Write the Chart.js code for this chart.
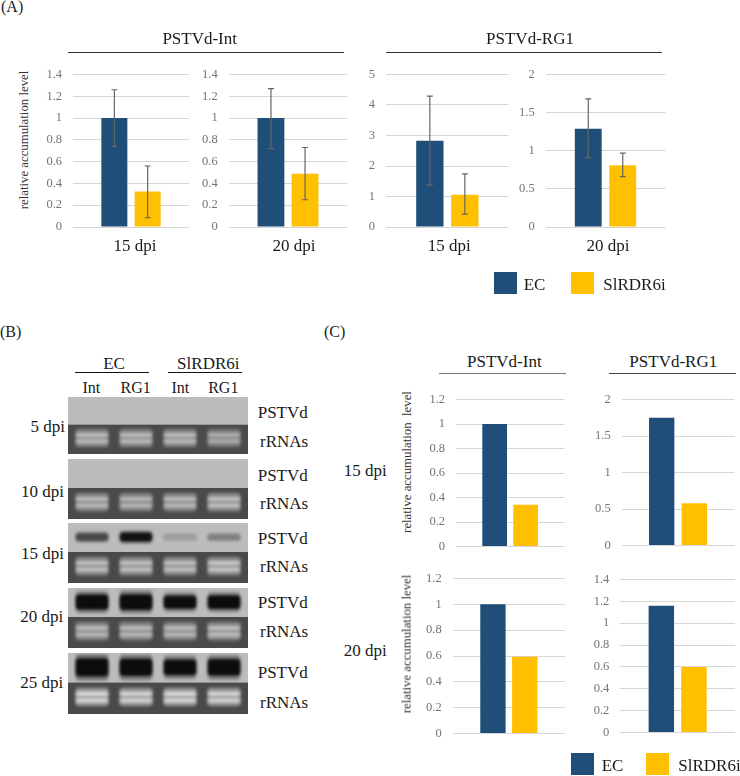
<!DOCTYPE html>
<html>
<head>
<meta charset="utf-8">
<title>PSTVd accumulation</title>
<script src="https://cdn.jsdelivr.net/npm/chart.js@4"></script>
<style>
  html, body { margin: 0; background: #fff; }
  body { position: relative; width: 740px; height: 776px; overflow: hidden; font-family: "Liberation Serif", serif; color: #1a1a1a; }
  canvas { position: absolute; }
  .t { position: absolute; line-height: 1; white-space: pre; }
  .r { position: absolute; }
  .k { position: absolute; }
</style>
</head>
<body>
<script>
const seriesNames = ["EC", "SlRDR6i"];
const BLUE = "#1f4e79";
const YELLOW = "#ffc000";

// panel A, order: Int 15, Int 20, RG1 15, RG1 20
const aEc = [1, 1, 2.83, 1.29];
const aSi = [0.325, 0.49, 1.06, 0.81];
const aEcLow = [0.74, 0.72, 1.37, 0.91];
const aEcHigh = [1.26, 1.27, 4.29, 1.68];
const aSiLow = [0.085, 0.25, 0.42, 0.66];
const aSiHigh = [0.56, 0.73, 1.74, 0.97];
const aDays = ["15 dpi", "20 dpi", "15 dpi", "20 dpi"];
const aMax = [1.4, 1.4, 5, 2];
const aStep = [0.2, 0.2, 1, 0.5];

// panel C, order: Int 15, RG1 15, Int 20, RG1 20
const cEc = [1, 1.75, 1, 1.16];
const cSi = [0.34, 0.58, 0.595, 0.6];
const cMax = [1.2, 2, 1.2, 1.4];
const cStep = [0.2, 0.5, 0.2, 0.2];

// panel B, band signal per lane
const laneLabels = ["EC Int", "EC RG1", "SlRDR6i Int", "SlRDR6i RG1"];
const pstvd5 = [0, 0, 0, 0];
const pstvd10 = [0, 0, 0, 0];
const pstvd15 = [0.3, 0.42, 0.1, 0.17];
const pstvd20 = [0.8, 0.85, 0.68, 0.7];
const pstvd25 = [1, 0.95, 0.85, 0.9];
const rrna5 = [0.62, 0.62, 0.62, 0.52];
const rrna10 = [0.62, 0.6, 0.62, 0.68];
const rrna15 = [0.68, 0.68, 0.68, 0.72];
const rrna20 = [0.62, 0.62, 0.62, 0.66];
const rrna25 = [0.85, 0.82, 0.85, 0.82];

// page layout, plot rectangles in px
const aBoxes = [
  { l: 73, r: 189, t: 74.7, b: 227.3, bar: 26, pitch: 33.3, off: 4 },
  { l: 228.7, r: 348, t: 74.7, b: 227.3, bar: 27, pitch: 34.3, off: 6 },
  { l: 386, r: 508.7, t: 74.5, b: 227.3, bar: 27.3, pitch: 35, off: 2 },
  { l: 545.7, r: 666, t: 74.5, b: 227.3, bar: 27, pitch: 34.7, off: 2.5 },
];
const cBoxes = [
  { l: 456, r: 564.3, t: 399.7, b: 547, bar: 24.7, pitch: 31 },
  { l: 621.7, r: 735, t: 399, b: 545.3, bar: 25.5, pitch: 32.8 },
  { l: 452.7, r: 565.7, t: 578.3, b: 733.7, bar: 25.5, pitch: 32 },
  { l: 620.3, r: 735.3, t: 579.7, b: 732.3, bar: 25.5, pitch: 32.7 },
];
const gelBoxes = [
  { t: 397, b: 454 },
  { t: 459, b: 519 },
  { t: 523, b: 583 },
  { t: 588, b: 648 },
  { t: 653, b: 714 },
];

function text(str, x, y, size, opts) {
  opts = opts || {};
  const d = document.createElement("div");
  d.className = "t";
  d.textContent = str;
  d.style.fontSize = size + "px";
  d.style.left = x + "px";
  d.style.top = y + "px";
  const shift = opts.align === "center" ? "-50%" : opts.align === "right" ? "-100%" : "0";
  d.style.transform = "translate(" + shift + ",-50%)" + (opts.rotate ? " rotate(-90deg)" : "");
  if (opts.color) d.style.color = opts.color;
  document.body.appendChild(d);
}

function rule(x1, x2, y, color, h) {
  const d = document.createElement("div");
  d.className = "r";
  d.style.cssText = "left:" + x1 + "px;width:" + (x2 - x1) + "px;top:" + y + "px;height:" + (h || 1) + "px;background:" + color;
  document.body.appendChild(d);
}

function swatch(x, y, color) {
  const d = document.createElement("div");
  d.className = "k";
  d.style.cssText = "left:" + x + "px;top:" + y + "px;width:23px;height:22px;background:" + color;
  document.body.appendChild(d);
}

const errorBars = {
  id: "errorBars",
  afterDatasetsDraw(chart) {
    const ctx = chart.ctx;
    const y = chart.scales.y;
    chart.data.datasets.forEach((ds, i) => {
      if (ds.errLow == null) return;
      const x = chart.getDatasetMeta(i).data[0].x;
      const y1 = y.getPixelForValue(ds.errLow);
      const y2 = y.getPixelForValue(ds.errHigh);
      ctx.save();
      ctx.strokeStyle = "#666";
      ctx.lineWidth = 1.2;
      ctx.beginPath();
      ctx.moveTo(x, y1);
      ctx.lineTo(x, y2);
      ctx.moveTo(x - 3, y1);
      ctx.lineTo(x + 3, y1);
      ctx.moveTo(x - 3, y2);
      ctx.lineTo(x + 3, y2);
      ctx.stroke();
      ctx.restore();
    });
  },
};

function makeCanvas(left, top, w, h) {
  const c = document.createElement("canvas");
  c.width = Math.round(w);
  c.height = Math.round(h);
  c.style.left = left + "px";
  c.style.top = top + "px";
  document.body.appendChild(c);
  return c;
}

function barChart(box, label, ec, si, max, step, err) {
  const gutter = 40;
  const top = Math.floor(box.t) - 10;
  const left = Math.floor(box.l) - gutter;
  const under = label ? 32 : 4;
  const w = box.r - box.l;
  const canvasW = gutter + Math.ceil(w) + 2;
  const canvasH = Math.ceil(box.b) - top + under;
  const canvas = makeCanvas(left, top, canvasW, canvasH);
  const mk = (name, data, color, low, high) => ({
    label: name,
    data: [data],
    backgroundColor: color,
    errLow: low,
    errHigh: high,
    barPercentage: box.bar / box.pitch,
    categoryPercentage: (2 * box.pitch) / w,
  });
  const chart = new Chart(canvas, {
    type: "bar",
    data: {
      labels: [label || ""],
      datasets: [
        mk(seriesNames[0], ec, BLUE, err ? err[0] : null, err ? err[1] : null),
        mk(seriesNames[1], si, YELLOW, err ? err[2] : null, err ? err[3] : null),
      ],
    },
    options: {
      responsive: false,
      maintainAspectRatio: false,
      animation: false,
      events: [],
      layout: { padding: { top: 8, right: 2 + Math.ceil(w) - w, left: box.l - left - gutter } },
      plugins: { legend: { display: false }, tooltip: { enabled: false } },
      scales: {
        x: {
          display: !!label,
          grid: { display: false, drawTicks: false },
          border: { display: false },
          afterFit: (s) => { s.height = under; },
          ticks: {
            color: "#1a1a1a",
            padding: 9,
            labelOffset: box.off || 0,
            maxRotation: 0,
            font: { family: "Liberation Serif", size: 17 },
          },
        },
        y: {
          min: 0,
          max: max,
          afterFit: (s) => { s.width = gutter; },
          border: { display: false },
          grid: { color: "#d6d6d6", lineWidth: 1, drawTicks: false },
          ticks: {
            stepSize: step,
            padding: 11,
            color: "#747474",
            font: { family: "Liberation Serif", size: 12.5 },
            callback: (v) => String(+v.toFixed(2)),
          },
        },
      },
    },
    plugins: [errorBars],
  });
  // chart layout reserves room for tick labels, so fit the canvas to the wanted plot height
  const extra = Math.round(box.b - box.t - (chart.chartArea.bottom - chart.chartArea.top));
  chart.resize(canvasW, canvasH + extra);
  canvas.style.top = box.t - chart.chartArea.top + "px";
}

aBoxes.forEach((box, i) => {
  barChart(box, aDays[i], aEc[i], aSi[i], aMax[i], aStep[i], [aEcLow[i], aEcHigh[i], aSiLow[i], aSiHigh[i]]);
});
cBoxes.forEach((box, i) => {
  barChart(box, "", cEc[i], cSi[i], cMax[i], cStep[i], null);
});

// gels: one small chart per time point, y runs 0-1 down the strip
const DIVIDE = 0.483;

function gray(v) {
  const g = Math.max(0, Math.min(255, Math.round(v)));
  return "rgb(" + g + "," + g + "," + g + ")";
}

const gelLook = {
  id: "gelLook",
  beforeDraw(chart) {
    const ctx = chart.ctx;
    const y = chart.scales.y.getPixelForValue(DIVIDE);
    ctx.fillStyle = "#bcbcbc";
    ctx.fillRect(0, 0, chart.width, y);
    ctx.fillStyle = "#4a4a4a";
    ctx.fillRect(0, y, chart.width, chart.height - y);
  },
  beforeDatasetsDraw(chart) {
    chart.ctx.save();
    chart.ctx.filter = "blur(1.6px)";
  },
  afterDatasetsDraw(chart) {
    chart.ctx.restore();
  },
};

function gelChart(box, signal, rrna) {
  const canvas = makeCanvas(68, box.t, 180, box.b - box.t);
  const stripH = box.b - box.t;
  const span = (c, px) => [c - px / stripH / 2, c + px / stripH / 2];
  const band = (data, color, order, fixed) => ({
    data: data,
    backgroundColor: color,
    order: order,
    barThickness: fixed,
    borderRadius: 4,
    borderSkipped: false,
    borderWidth: 0,
  });
  const bandH = (s) => 2.5 + s * 15;
  new Chart(canvas, {
    type: "bar",
    data: {
      labels: laneLabels,
      datasets: [
        band(signal.map((s) => (s > 0 ? span(0.235, bandH(s) * 1.5) : null)), signal.map((s) => "rgba(40,40,40," + (0.15 + s * 0.3) + ")"), 4, 32),
        band(signal.map((s) => (s > 0 ? span(0.235, bandH(s)) : null)), signal.map((s) => gray(190 * (1 - Math.min(1, s * 2.3)) + 12)), 3, 32),
        band(rrna.map(() => span(0.72, 18)), rrna.map((s) => gray(80 + s * 75)), 4, 33),
        band(rrna.map(() => span(0.67, 4)), rrna.map((s) => gray(105 + s * 130)), 2, 31),
        band(rrna.map(() => span(0.775, 4.5)), rrna.map((s) => gray(100 + s * 130)), 1, 31),
      ],
    },
    options: {
      responsive: false,
      maintainAspectRatio: false,
      animation: false,
      events: [],
      layout: { padding: { left: 2, right: 2 } },
      plugins: { legend: { display: false }, tooltip: { enabled: false } },
      datasets: { bar: { grouped: false } },
      scales: {
        x: { display: false },
        y: { display: false, min: 0, max: 1, reverse: true },
      },
    },
    plugins: [gelLook],
  });
}

const gelSignal = [pstvd5, pstvd10, pstvd15, pstvd20, pstvd25];
const gelRrna = [rrna5, rrna10, rrna15, rrna20, rrna25];
gelBoxes.forEach((box, i) => gelChart(box, gelSignal[i], gelRrna[i]));

// all text and rules around the plots
text("(A)", 1, 7, 16);
text("(B)", 0, 332, 16);
text("(C)", 324, 332, 16);

text("PSTVd-Int", 199.7, 38, 17, { align: "center" });
text("PSTVd-RG1", 530, 38, 17, { align: "center" });
rule(68, 343.7, 52, "#333");
rule(385.7, 661.7, 52, "#333");
text("relative accumulation level", 24, 139.7, 12.8, { align: "center", rotate: true, color: "#333" });

swatch(494.3, 271.7, BLUE);
swatch(571.3, 271.7, YELLOW);
text(seriesNames[0], 523.7, 283.7, 17);
text(seriesNames[1], 603.3, 283.7, 17);

text("EC", 114, 363, 17, { align: "center" });
text("SlRDR6i", 208.3, 363, 17, { align: "center" });
rule(75.3, 149, 372, "#111", 1.3);
rule(168.3, 242, 372, "#111", 1.3);
text("Int", 91.3, 388, 16, { align: "center" });
text("RG1", 135.7, 388, 16, { align: "center" });
text("Int", 180.3, 388, 16, { align: "center" });
text("RG1", 223.3, 388, 16, { align: "center" });

[["5 dpi", 65, 426], ["10 dpi", 64, 491], ["15 dpi", 64, 552.7], ["20 dpi", 63.3, 615.7], ["25 dpi", 63.3, 681.7]].forEach((d) => {
  text(d[0], d[1], d[2], 17, { align: "right" });
});
[411.7, 475, 537.7, 601.7, 671.7].forEach((y) => text("PSTVd", 257.7, y, 17));
[440.7, 503.3, 565.7, 631, 701.7].forEach((y) => text("rRNAs", 260, y, 17));

text("PSTVd-Int", 504.3, 360.7, 17, { align: "center" });
text("PSTVd-RG1", 673.3, 360.7, 17, { align: "center" });
rule(438.7, 566, 373, "#777", 1.3);
rule(609, 736, 373, "#444");
text("15 dpi", 386.7, 470, 17, { align: "right" });
text("20 dpi", 386.7, 650, 17, { align: "right" });
text("relative accumulation  level", 406.7, 462, 12.8, { align: "center", rotate: true, color: "#333" });
text("relative accumulation level", 406.7, 643.7, 12.8, { align: "center", rotate: true, color: "#333" });

swatch(571.3, 753.3, BLUE);
swatch(645.7, 753.3, YELLOW);
text(seriesNames[0], 601.7, 765, 17);
text(seriesNames[1], 678.3, 765, 17);
</script>
</body>
</html>
